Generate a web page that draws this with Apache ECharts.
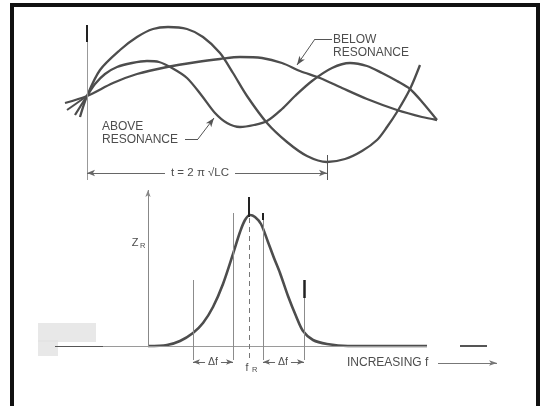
<!DOCTYPE html>
<html><head><meta charset="utf-8">
<script src="https://cdn.jsdelivr.net/npm/echarts@6/dist/echarts.min.js"></script>
<style>html,body{margin:0;padding:0;background:#fff}#c{width:541px;height:406px}</style>
</head><body><div id="c"></div>
<script>
// ---- top panel: oscillation vs time (x: time, y: amplitude) ----
const curveAtResonance = [[-7,-21],[0,0],[13,26],[33,46],[50,59],[66,67],[81,69],[100,67],[116,59],[133,43],[146,23],[160,0],[180,-27],[200,-46],[220,-60],[240,-66],[258,-63],[275,-55],[290,-44],[300,-31],[310,-16],[323,7],[333,31]];
const curveAboveResonance = [[-12,-19],[0,0],[8,12],[18,22],[30,29],[45,33],[60,35],[72,34],[85,28],[100,18],[115,0],[128,-17],[140,-27],[153,-31],[167,-29],[180,-25],[195,-13],[208,0],[225,15],[245,28],[263,33],[280,30],[295,23],[310,15],[323,7],[336,-7],[350,-24]];
const curveBelowResonance = [[-22,-7],[0,0],[26,13],[50,22],[80,29],[110,34],[133,37],[153,39],[175,38],[195,33],[213,25],[233,18],[255,8],[280,-3],[310,-14],[335,-21],[350,-24]];
const curveStub = [[-20,-14],[0,0]];
const periodT = 240;              // t = 2π√LC
// ---- bottom panel: impedance vs frequency ----
const responseCurve = [[0,0],[19,1],[32,5],[45,13],[55,23],[65,39],[75,62],[85,92],[92,114],[97,126],[102,131],[107,129],[113,122],[120,104],[126,88],[132,73],[140,50],[148,30],[155,15],[165,6],[179,2],[200,0],[279,0]];
const fR = 101;
const bandInner = [85, 115];      // half-power points
const bandOuter = [45, 156];
const labelsTop = ['BELOW', 'RESONANCE', 'ABOVE', 'RESONANCE'];
const periodLabel = 't = 2 π √LC';
const xLabel = 'INCREASING f';

const INK = '#4d4d4d', THIN = '#8c8c8c';
const FONT = '"Liberation Sans", Arial, sans-serif';

function seg(a, b, o) {
  o = o || {};
  const ls = {color: o.color || THIN, width: o.width || 1, type: o.type || 'solid'};
  return [
    {coord: a, symbol: o.s0 || 'none', symbolSize: o.size || 7, lineStyle: ls},
    {coord: b, symbol: o.s1 || 'none', symbolSize: o.size || 7, lineStyle: ls}
  ];
}
function curve(data, g, w) {
  return {type: 'line', xAxisIndex: g, yAxisIndex: g, data: data, smooth: 0.3, showSymbol: false,
    lineStyle: {color: INK, width: w || 2.3}, silent: true, z: 3};
}
function marks(g, lines) {
  return {type: 'line', xAxisIndex: g, yAxisIndex: g, data: [], silent: true,
    markLine: {silent: true, animation: false, symbol: ['none', 'none'], label: {show: false},
      emphasis: {disabled: true}, data: lines}};
}

const chart = echarts.init(document.getElementById('c'), null, {renderer: 'canvas'});
const option = {
  animation: false,
  backgroundColor: '#fff',
  grid: [
    {left: 57, top: 20, width: 430, height: 160},
    {left: 40, top: 190, width: 460, height: 180}
  ],
  xAxis: [
    {type: 'value', gridIndex: 0, min: -30, max: 400, show: false},
    {type: 'value', gridIndex: 1, min: -108, max: 352, show: false}
  ],
  yAxis: [
    {type: 'value', gridIndex: 0, min: -84, max: 76, show: false},
    {type: 'value', gridIndex: 1, min: -24, max: 156, show: false}
  ],
  series: [
    marks(0, [
      seg([-30, 0], [401, 0], {color: '#9a9a9a'}),
      seg([0, -84], [0, 71], {color: '#999'}),
      seg([0, 54], [0, 71], {color: '#222', width: 2}),
      seg([periodT, -59], [periodT, -84], {color: '#555'}),
      seg([0, -77], [periodT, -77], {color: '#666', s0: 'arrow', s1: 'arrow', size: [5, 8]}),
      seg([245, 57], [228, 57], {color: '#555'}),
      seg([228, 57], [210, 31], {color: '#555', s1: 'arrow', size: [5, 9]}),
      seg([98, -43], [111, -43], {color: '#555'}),
      seg([111, -43], [127, -22], {color: '#555', s1: 'arrow', size: [5, 9]})
    ]),
    curve(curveBelowResonance, 0),
    curve(curveAboveResonance, 0),
    curve(curveAtResonance, 0),
    curve(curveStub, 0, 2),
    marks(1, [
      seg([-93, 0], [279, 0], {color: '#9a9a9a'}),
      seg([-93, 0], [-45, 0], {color: '#555'}),
      seg([312, 0], [339, 0], {color: '#555', width: 2}),
      seg([0, 0], [0, 156], {color: '#888', s1: 'arrow', size: [4, 7]}),
      seg([bandOuter[0], -14], [bandOuter[0], 66]),
      seg([bandOuter[1], -14], [bandOuter[1], 66]),
      seg([bandOuter[1], 48], [bandOuter[1], 66], {color: '#222', width: 2.5}),
      seg([bandInner[0], -14], [bandInner[0], 133]),
      seg([bandInner[1], -14], [bandInner[1], 133]),
      seg([bandInner[1], 126], [bandInner[1], 133], {color: '#222', width: 2}),
      seg([fR, -12], [fR, 136], {color: '#777', type: [5, 4]}),
      seg([fR, 129], [fR, 149], {color: '#222', width: 2}),
      seg([bandOuter[0], -16], [bandInner[0], -16], {color: '#666', s0: 'arrow', s1: 'arrow', size: [4, 7]}),
      seg([bandInner[1], -16], [bandOuter[1], -16], {color: '#666', s0: 'arrow', s1: 'arrow', size: [4, 7]}),
      seg([290, -17], [349, -17], {color: '#777', s1: 'arrow', size: [4, 8]})
    ]),
    curve(responseCurve, 1, 2.6)
  ]
};
chart.setOption(option);

function P(g, pt) { return chart.convertToPixel({gridIndex: g}, pt); }
function txt(g, pt, text, o) {
  o = o || {};
  const p = P(g, pt);
  return {type: 'text', x: p[0], y: p[1], z: 100, silent: true,
    style: Object.assign({text: text, fill: INK, font: (o.size || 12) + 'px ' + FONT,
      textAlign: o.align || 'left', textVerticalAlign: 'middle'}, o.style || {})};
}
const graphics = [
  {type: 'rect', z: 0, silent: true, shape: {x: 38, y: 323, width: 58, height: 19}, style: {fill: '#e2e2e2', opacity: 0.8}},
  {type: 'rect', z: 0, silent: true, shape: {x: 38, y: 340, width: 20, height: 16}, style: {fill: '#e2e2e2', opacity: 0.8}},
  {type: 'rect', z: 200, silent: true, shape: {x: 12, y: 5, width: 526, height: 460}, style: {fill: 'none', stroke: '#111', lineWidth: 4}},
  txt(0, [246, 56], labelsTop[0]),
  txt(0, [246, 43], labelsTop[1]),
  txt(0, [15, -31], labelsTop[2]),
  txt(0, [15, -44], labelsTop[3]),
  txt(0, [113, -77], periodLabel, {size: 11.5, align: 'center', style: {backgroundColor: '#fff', padding: [0, 6]}}),
  txt(1, [-13, 103], 'Z', {size: 11, align: 'center'}),
  txt(1, [-8, 100], 'R', {size: 7.5}),
  txt(1, [65, -16], 'Δf', {size: 10.5, align: 'center', style: {backgroundColor: '#fff', padding: [0, 3]}}),
  txt(1, [135, -16], 'Δf', {size: 10.5, align: 'center', style: {backgroundColor: '#fff', padding: [0, 3]}}),
  txt(1, [99, -22], 'f', {size: 10.5, align: 'center'}),
  txt(1, [104, -24], 'R', {size: 7.5}),
  txt(1, [199, -17], xLabel, {size: 12})
];
chart.setOption({graphic: graphics});
</script></body></html>
